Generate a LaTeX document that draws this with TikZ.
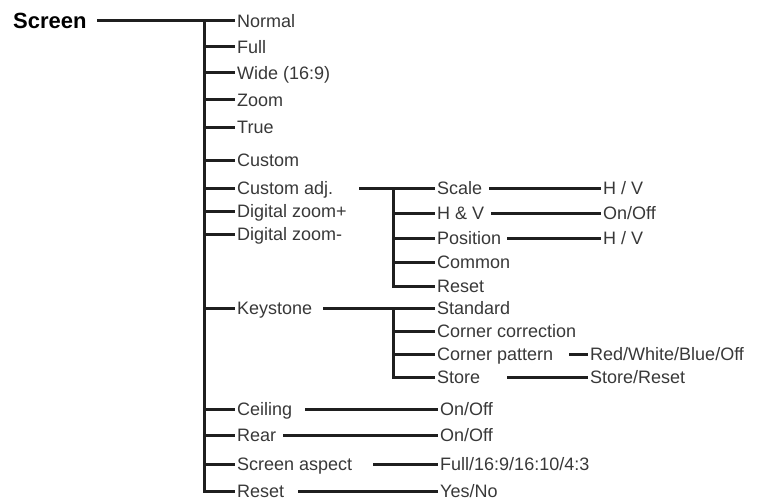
\documentclass[tikz,border=0pt]{standalone}
\usepackage{fontspec}
\setmainfont{Liberation Sans}

\tikzset{
  item/.style={anchor=west, inner sep=2pt, text height=13pt, text depth=0pt,
    font=\fontsize{18}{20}\selectfont, text=black!78},
  root/.style={anchor=west, inner sep=2pt, text height=16pt, text depth=0pt,
    font=\fontsize{22}{24}\selectfont\bfseries, text=black},
  wire/.style={line width=3pt, draw=black!88}
}

\begin{document}
\begin{tikzpicture}[x=1pt, y=-1pt]
\useasboundingbox (0,0) rectangle (770,500);

% root
\node[root] (screen) at (11,21) {Screen};

% first level
\node[item] (normal)   at (235,21)  {Normal};
\node[item] (full)     at (235,47)  {Full};
\node[item] (wide)     at (235,73)  {Wide (16:9)};
\node[item] (zoom)     at (235,100) {Zoom};
\node[item] (true)     at (235,127) {True};
\node[item] (custom)   at (235,160) {Custom};
\node[item] (cadj)     at (235,188) {Custom adj.};
\node[item] (dzp)      at (235,211) {Digital zoom+};
\node[item] (dzm)      at (235,234) {Digital zoom-};
\node[item] (keystone) at (235,308) {Keystone};
\node[item] (ceiling)  at (235,409) {Ceiling};
\node[item] (rear)     at (235,435) {Rear};
\node[item] (aspect)   at (235,464) {Screen aspect};
\node[item] (reset)    at (235,491) {Reset};

% custom adj. menu
\node[item] (scale)    at (435,188) {Scale};
\node[item] (hv)       at (435,213) {H \& V};
\node[item] (position) at (435,238) {Position};
\node[item] (common)   at (435,262) {Common};
\node[item] (creset)   at (435,286) {Reset};

% keystone menu
\node[item] (standard) at (435,308) {Standard};
\node[item] (corner)   at (435,331) {Corner correction};
\node[item] (cpattern) at (435,354) {Corner pattern};
\node[item] (store)    at (435,377) {Store};

% values
\node[item] (scaleval) at (601,188) {H / V};
\node[item] (hvval)    at (601,213) {On/Off};
\node[item] (posval)   at (601,238) {H / V};
\node[item] (cpval)    at (588,354) {Red/White/Blue/Off};
\node[item] (storeval) at (588,377) {Store/Reset};
\node[item] (ceilval)  at (438,409) {On/Off};
\node[item] (rearval)  at (438,435) {On/Off};
\node[item] (aspval)   at (438,464) {Full/16:9/16:10/4:3};
\node[item] (resetval) at (438,491) {Yes/No};

\coordinate (v1) at (204,0);
\coordinate (v2) at (393,0);

% first level tree
\draw[wire] (97,0 |- screen.west) -- (normal.west);
\draw[wire] (v1 |- normal.west) |- (reset.west);
\foreach \n in {full,wide,zoom,true,custom,cadj,dzp,dzm,keystone,ceiling,rear,aspect}
  \draw[wire] (v1 |- \n.west) -- (\n.west);

% custom adj. tree
\draw[wire] (359,0 |- cadj.west) -- (scale.west);
\draw[wire] (v2 |- scale.west) |- (creset.west);
\foreach \n in {hv,position,common}
  \draw[wire] (v2 |- \n.west) -- (\n.west);

% keystone tree
\draw[wire] (323,0 |- keystone.west) -- (standard.west);
\draw[wire] (v2 |- standard.west) |- (store.west);
\foreach \n in {corner,cpattern}
  \draw[wire] (v2 |- \n.west) -- (\n.west);

% value lines
\draw[wire] (489,0 |- scale.west) -- (scaleval.west);
\draw[wire] (491,0 |- hv.west) -- (hvval.west);
\draw[wire] (507,0 |- position.west) -- (posval.west);
\draw[wire] (569,0 |- cpattern.west) -- (cpval.west);
\draw[wire] (507,0 |- store.west) -- (storeval.west);
\draw[wire] (305,0 |- ceiling.west) -- (ceilval.west);
\draw[wire] (283,0 |- rear.west) -- (rearval.west);
\draw[wire] (373,0 |- aspect.west) -- (aspval.west);
\draw[wire] (298,0 |- reset.west) -- (resetval.west);
\end{tikzpicture}
\end{document}
